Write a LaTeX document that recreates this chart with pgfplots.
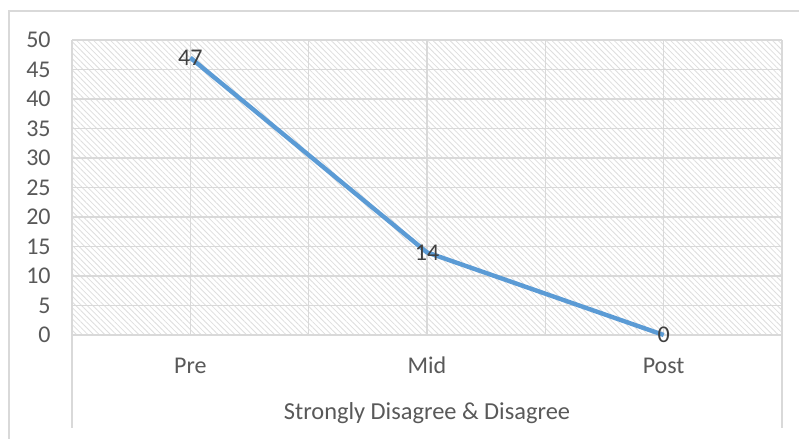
\documentclass[border=0pt]{standalone}
\usepackage{fontspec}
\setmainfont{Carlito}
\usepackage{pgfplots}
\pgfplotsset{compat=1.18}
\usetikzlibrary{patterns.meta}
\definecolor{gridc}{HTML}{D9D9D9}
\definecolor{hatchc}{HTML}{DEDEDE}
\definecolor{txt}{HTML}{595959}
\definecolor{lbl}{HTML}{404040}
\definecolor{lineblue}{HTML}{5B9BD5}
\begin{document}
\begin{tikzpicture}
\useasboundingbox (0,0) rectangle (399.5pt,219.5pt);
\fill[white] (0,0) rectangle (399.5pt,219.5pt);
\draw[gridc, line width=0.9pt] (4.5pt,-10pt) -- (4.5pt,214pt) -- (410pt,214pt);
\begin{axis}[
  at={(36pt,52pt)}, anchor=south west,
  scale only axis, width=355pt, height=147.5pt,
  xmin=-0.5, xmax=2.5, ymin=0, ymax=50,
  xtick={0,1,2}, xticklabels={Pre,Mid,Post},
  extra x ticks={-0.5,0.5,1.5,2.5}, extra x tick labels={},
  extra x tick style={grid=major, major tick length=0pt},
  ytick={0,5,...,50},
  major tick length=0pt,
  grid=major,
  grid style={gridc, line width=0.65pt},
  axis x line*=bottom, axis y line*=left,
  x axis line style={gridc, line width=0.8pt, -},
  y axis line style={draw=none},
  axis background/.style={pattern={Lines[angle=-45,distance=2pt,line width=0.4pt]}, pattern color=hatchc},
  tick label style={font=\fontsize{12}{14}\selectfont, text=txt},
  /pgf/number format/assume math mode=true,
  yticklabel style={inner sep=0pt, anchor=east, xshift=-10.5pt},
  xticklabel style={inner sep=0pt, anchor=base, yshift=-19.5pt},
  xlabel={Strongly Disagree \& Disagree},
  xlabel style={at={(axis description cs:0.5,0)}, anchor=base, yshift=-42.5pt, inner sep=0pt, font=\fontsize{12.2}{14}\selectfont, text=txt},
  clip=false,
]
\addplot[lineblue, line width=2.2pt, no markers,
  nodes near coords,
  every node near coord/.style={anchor=center, inner sep=0pt, font=\fontsize{12}{14}\selectfont, text=lbl}]
  coordinates {(0,47) (1,14) (2,0)};
\coordinate (L) at (axis cs:-0.5,0);
\coordinate (R) at (axis cs:2.5,0);
\end{axis}
\draw[gridc, line width=0.65pt] (L) -- ++(0,-46.5pt);
\draw[gridc, line width=0.65pt] (R) -- ++(0,-46.5pt);
\end{tikzpicture}
\end{document}
